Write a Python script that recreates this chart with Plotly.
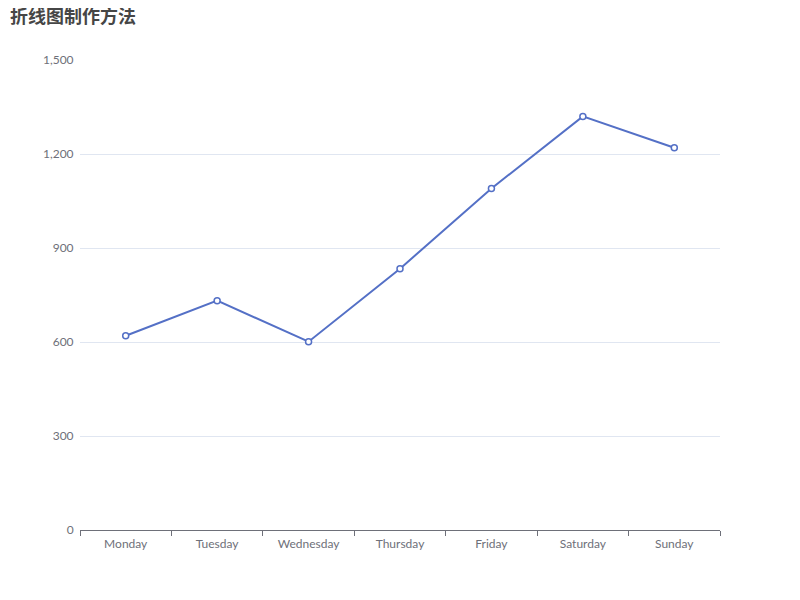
import plotly.graph_objects as go

categories = ["Monday", "Tuesday", "Wednesday", "Thursday", "Friday", "Saturday", "Sunday"]
values = [620, 732, 601, 834, 1090, 1320, 1220]
y_ticks = [0, 300, 600, 900, 1200, 1500]
y_tick_labels = ["0", "300", "600", "900", "1,200", "1,500"]
title_text = "折线图制作方法"

fig = go.Figure()
fig.add_trace(go.Scatter(
    x=categories, y=values, mode="lines+markers",
    line=dict(color="#5470c6", width=2),
    marker=dict(symbol="circle", size=6, color="#ffffff",
                line=dict(color="#5470c6", width=1.5)),
    hoverinfo="x+y", showlegend=False,
))

label_font = "Lato, Noto Sans, sans-serif"
title_font = "Noto Sans CJK SC, sans-serif"
fig.update_layout(
    width=800, height=600,
    margin=dict(l=72, r=88, t=52, b=78, autoexpand=False),
    paper_bgcolor="#ffffff", plot_bgcolor="#ffffff",
    font=dict(family=label_font, size=12, color="#6E7079"),
    xaxis=dict(
        type="category", range=[-0.5, 6.5],
        showline=True, linecolor="#6E7079", linewidth=1,
        ticks="outside", ticklen=5, tickcolor="#6E7079", tickson="boundaries",
        ticklabelstandoff=3,
        showgrid=False, zeroline=False,
        tickfont=dict(size=12, color="#6E7079"),
    ),
    yaxis=dict(
        range=[0, 1500], tickvals=y_ticks, ticktext=y_tick_labels,
        showline=False, zeroline=False,
        showgrid=True, gridcolor="#E0E6F1", gridwidth=1,
        ticks="outside", ticklen=3, tickcolor="rgba(0,0,0,0)",
        tickfont=dict(size=12, color="#6E7079"),
    ),
    annotations=[dict(
        text="<b>" + title_text + "</b>", showarrow=False,
        xref="paper", yref="paper", x=-72 / 640, y=1 + 45 / 470,
        xanchor="left", yanchor="middle", xshift=0,
        font=dict(size=18, color="#464646", family=title_font),
    )],
)

fig.write_html("out.html")
